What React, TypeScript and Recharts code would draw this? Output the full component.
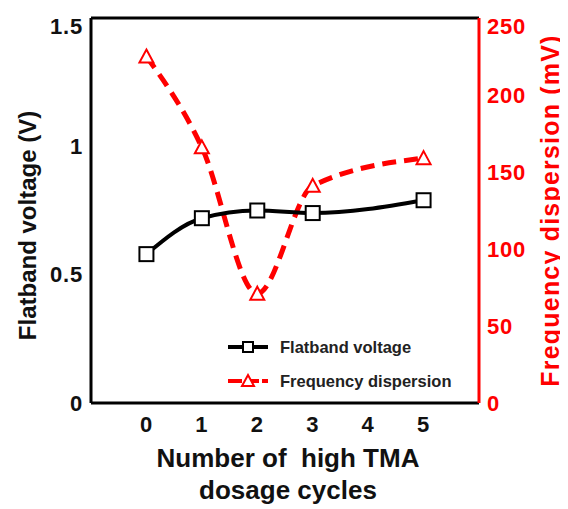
import React from 'react';
import {
  LineChart,
  Line,
  XAxis,
  YAxis,
  Legend,
  ReferenceLine,
} from 'recharts';

const cycles = [0, 1, 2, 3, 5];
const flatband = [0.58, 0.72, 0.75, 0.74, 0.79];
const dispersion = [225, 166, 71, 141, 159];
const xTicks = [0, 1, 2, 3, 4, 5];
const leftTicks = [0, 0.5, 1, 1.5];
const rightTicks = [0, 50, 100, 150, 200, 250];

const data = cycles.map((c, i) => ({
  cycle: c,
  flatband: flatband[i],
  dispersion: dispersion[i],
}));

const FONT = '"Liberation Sans", Arial, sans-serif';
const RED = '#ff0000';
const tickStyle = { fontFamily: FONT, fontWeight: 700, fontSize: 22, letterSpacing: 0.8 };

function SquareDot(props: any) {
  const { cx, cy, index } = props;
  if (cx == null || cy == null) return <g key={`s-${index}`} />;
  return (
    <rect
      key={`s-${index}`}
      x={cx - 7}
      y={cy - 7}
      width={14}
      height={14}
      fill="#fff"
      stroke="#000"
      strokeWidth={2}
    />
  );
}

function TriangleDot(props: any) {
  const { cx, cy, index } = props;
  if (cx == null || cy == null) return <g key={`t-${index}`} />;
  return (
    <path
      key={`t-${index}`}
      d={`M${cx},${cy - 7} L${cx + 7},${cy + 6} L${cx - 7},${cy + 6} Z`}
      fill="#fff"
      stroke={RED}
      strokeWidth={2}
    />
  );
}

// y tick label; the top one sits a bit lower in the original figure
function YTick(props: any) {
  const { x, y, payload, textAnchor, fill, top } = props;
  const dy = payload.value === top ? 8 : 0;
  return (
    <text
      x={x}
      y={y + dy}
      textAnchor={textAnchor}
      dominantBaseline="central"
      fill={fill}
      {...tickStyle}
    >
      {payload.value}
    </text>
  );
}

function LegendBox() {
  const rows = [
    { name: 'Flatband voltage', color: '#000', marker: 'square' },
    { name: 'Frequency dispersion', color: RED, marker: 'triangle' },
  ];
  return (
    <div>
      {rows.map((r) => (
        <div key={r.name} style={{ display: 'flex', alignItems: 'center', height: 34 }}>
          <svg width={42} height={16} style={{ marginRight: 11 }}>
            <line
              x1={1}
              y1={8}
              x2={41}
              y2={8}
              stroke={r.color}
              strokeWidth={4}
              strokeDasharray={r.marker === 'triangle' ? '14 3' : undefined}
            />
            {r.marker === 'square' ? (
              <rect x={16} y={3} width={10} height={10} fill="#fff" stroke="#000" strokeWidth={2} />
            ) : (
              <path d="M21,2 L27,13 L15,13 Z" fill="#fff" stroke={RED} strokeWidth={2} />
            )}
          </svg>
          <span style={{ fontFamily: FONT, fontWeight: 700, fontSize: 16.5, color: '#222' }}>
            {r.name}
          </span>
        </div>
      ))}
    </div>
  );
}

function XTitle(props: any) {
  const vb = props.viewBox || {};
  const cx = vb.x + vb.width / 2 + 3;
  return (
    <text
      x={cx}
      textAnchor="middle"
      fontFamily={FONT}
      fontWeight={700}
      fontSize={26}
      fill="#111"
      style={{ whiteSpace: 'pre' }}
    >
      <tspan x={cx} y={vb.y + 64}>{'Number of\u00a0 high TMA'}</tspan>
      <tspan x={cx} y={vb.y + 96}>dosage cycles</tspan>
    </text>
  );
}

function YTitle(props: any) {
  const vb = props.viewBox || {};
  const { text, color, x, shift, size, spacing } = props;
  const cy = vb.y + vb.height / 2 + shift;
  return (
    <text
      x={x}
      y={cy}
      transform={`rotate(-90, ${x}, ${cy})`}
      textAnchor="middle"
      dominantBaseline="central"
      fontFamily={FONT}
      fontWeight={700}
      fontSize={size}
      letterSpacing={spacing}
      fill={color}
    >
      {text}
    </text>
  );
}

export default function App() {
  return (
    <div style={{ width: 560, height: 501 }}>
      <LineChart
        width={560}
        height={501}
        data={data}
        margin={{ top: 10, right: 0, bottom: 0, left: 0 }}
      >
        <XAxis
          dataKey="cycle"
          type="number"
          domain={[-1, 6]}
          ticks={xTicks}
          allowDataOverflow
          height={106}
          axisLine={{ stroke: '#000', strokeWidth: 3 }}
          tickLine={false}
          tickMargin={7}
          tick={{ ...tickStyle, fill: '#111' }}
          label={{ content: (p: any) => <XTitle {...p} /> }}
        />
        <YAxis
          yAxisId="left"
          domain={[0, 1.5]}
          ticks={leftTicks}
          width={83}
          axisLine={{ stroke: '#000', strokeWidth: 3 }}
          tickLine={false}
          tickMargin={2}
          tick={(p: any) => <YTick {...p} fill="#111" top={1.5} />}
          label={{
            content: (p: any) => (
              <YTitle {...p} text="Flatband voltage (V)" color="#111" x={19} shift={15} size={24} spacing={0} />
            ),
          }}
        />
        <YAxis
          yAxisId="right"
          orientation="right"
          domain={[0, 250]}
          ticks={rightTicks}
          width={89}
          axisLine={{ stroke: RED, strokeWidth: 3 }}
          tickLine={false}
          tickMargin={2}
          tick={(p: any) => <YTick {...p} fill={RED} top={250} />}
          label={{
            content: (p: any) => (
              <YTitle {...p} text="Frequency dispersion (mV)" color={RED} x={542} shift={0} size={25} spacing={1.2} />
            ),
          }}
        />
        <ReferenceLine yAxisId="left" y={1.5} stroke="#000" strokeWidth={3} />
        <Legend
          layout="vertical"
          align="center"
          verticalAlign="middle"
          content={() => <LegendBox />}
          wrapperStyle={{ left: 219, top: 322, width: 'auto' }}
        />
        <Line
          yAxisId="right"
          type="monotone"
          dataKey="dispersion"
          name="Frequency dispersion"
          stroke={RED}
          strokeWidth={5}
          strokeDasharray="14 8"
          dot={(p: any) => <TriangleDot {...p} />}
          isAnimationActive={false}
        />
        <Line
          yAxisId="left"
          type="monotone"
          dataKey="flatband"
          name="Flatband voltage"
          stroke="#000"
          strokeWidth={4}
          dot={(p: any) => <SquareDot {...p} />}
          isAnimationActive={false}
        />
      </LineChart>
    </div>
  );
}
